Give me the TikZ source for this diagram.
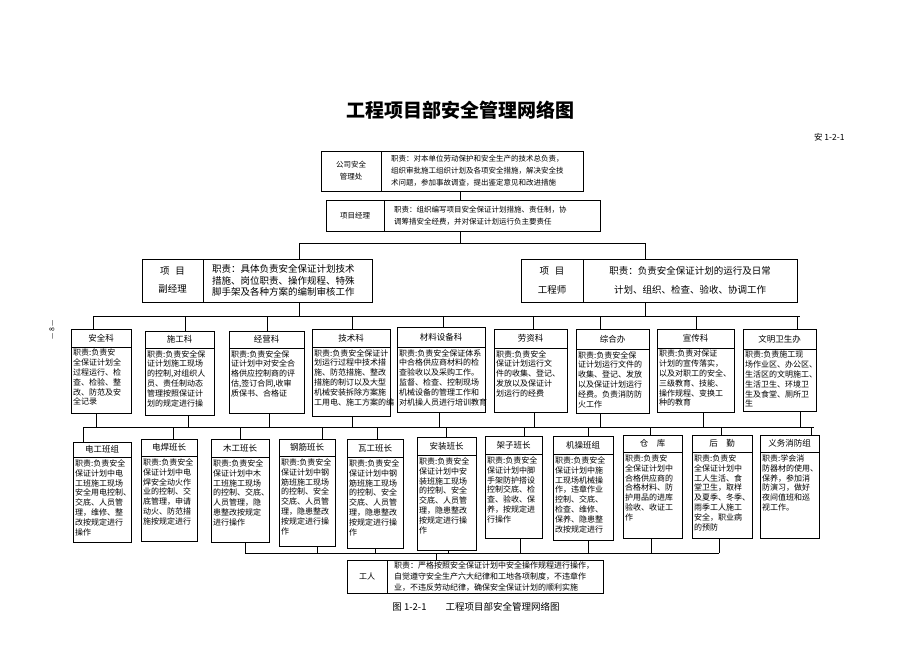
\documentclass[tikz,border=0pt]{standalone}
\usepackage{fontspec}
\setmainfont{Noto Sans CJK SC}
\tikzset{
  box/.style={draw, line width=1.2pt, inner sep=0pt, anchor=north west},
  link/.style={line width=0.7pt},
  head/.style={font=\fontsize{8.5}{10}\selectfont},
  body/.style={anchor=north west, align=left, inner sep=0pt, font=\fontsize{8}{9.8}\selectfont},
  lab/.style={align=center, inner sep=0pt},
}
\begin{document}
\begin{tikzpicture}[x=1pt,y=-1pt]
  \useasboundingbox (0,0) rectangle (920,651);
  % title
  \node[font=\fontsize{19}{19}\selectfont\bfseries] (title) at (460,110) {工程项目部安全管理网络图};
  \node[anchor=east, font=\fontsize{8.5}{9}\selectfont] (tabno) at (848,137) {安 1-2-1};
  \node[rotate=90, font=\fontsize{7}{7}\selectfont] (page) at (52,330) {— 8 —};

  % upper levels
  \node[box, minimum width=262pt, minimum height=40pt] (gs) at (321,151) {};
  \draw[link] ([xshift=60pt]gs.north west) -- ([xshift=60pt]gs.south west);
  \node[lab, font=\fontsize{7.5}{12}\selectfont] at (351,171) {公司安全\\管理处};
  \node[lab, anchor=west, align=left, font=\fontsize{7.5}{12}\selectfont] at (391,171)
    {职责：对本单位劳动保护和安全生产的技术总负责，\\组织审批施工组织计划及各项安全措施，解决安全技\\术问题，参加事故调查，提出鉴定意见和改进措施};

  \node[box, minimum width=274pt, minimum height=31pt] (xmjl) at (326,200) {};
  \draw[link] ([xshift=58pt]xmjl.north west) -- ([xshift=58pt]xmjl.south west);
  \node[lab, font=\fontsize{7.5}{12}\selectfont] at (355,215.5) {项目经理};
  \node[lab, anchor=west, align=left, font=\fontsize{7.5}{12}\selectfont] at (394,215.5)
    {职责：组织编写项目安全保证计划措施、责任制，协\\调筹措安全经费，并对保证计划运行负主要责任};

  \node[box, minimum width=230pt, minimum height=43pt] (fjl) at (142,259) {};
  \draw[link] ([xshift=61pt]fjl.north west) -- ([xshift=61pt]fjl.south west);
  \node[lab, font=\fontsize{9.5}{18}\selectfont] at (172.5,280.5) {项\hspace{0.6em}目\\副经理};
  \node[lab, anchor=west, align=left, font=\fontsize{9.5}{11.5}\selectfont] at (212,280.5)
    {职责：具体负责安全保证计划技术\\措施、岗位职责、操作规程、特殊\\脚手架及各种方案的编制审核工作};

  \node[box, minimum width=276pt, minimum height=43pt] (gcs) at (521,259) {};
  \draw[link] ([xshift=62pt]gcs.north west) -- ([xshift=62pt]gcs.south west);
  \node[lab, font=\fontsize{9.5}{19}\selectfont] at (552,280.5) {项\hspace{0.6em}目\\工程师};
  \node[lab, font=\fontsize{9.5}{19}\selectfont] at (690,280.5)
    {职责：负责安全保证计划的运行及日常\\计划、组织、检查、验收、协调工作};

  % departments
  \foreach \nm/\x/\y/\w/\h/\hh/\ttl/\txt in {
    aqk/71/329/60/84/18/安全科/{职责:负责安\\全保证计划全\\过程运行、检\\查、检验、整\\改、防范及安\\全记录},
    sgk/145/331/69/84/17/施工科/{职责:负责安全保\\证计划施工现场\\的控制,对组织人\\员、责任制动态\\管理按照保证计\\划的规定进行操},
    jyk/229/331/75/82/17/经营科/{职责:负责安全保\\证计划中对安全合\\格供应控制商的评\\估,签订合同,收审\\质保书、合格证},
    jsk/312/329/78/87/18/技术科/{职责:负责安全保证计\\划运行过程中技术措\\施、防范措施、整改\\措施的制订以及大型\\机械安装拆除方案施\\工用电、施工方案的编},
    clk/397/327/88/85/20/材料设备科/{职责:负责安全保证体系\\中合格供应商材料的检\\查验收以及采购工作。\\监督、检查、控制现场\\机械设备的管理工作和\\对机操人员进行培训教育},
    lzk/494/329/73/83/19/劳资科/{职责:负责安全\\保证计划运行文\\件的收集、登记、\\发放以及保证计\\划运行的经费},
    zhb/576/329/73/84/20/综合办/{职责:负责安全保\\证计划运行文件的\\收集、登记、发放\\以及保证计划运行\\经费。负责消防防\\火工作},
    xck/657/329/77/83/19/宣传科/{职责:负责对保证\\计划的宣传落实，\\以及对职工的安全、\\三级教育、技能、\\操作规程、变换工\\种的教育},
    wmb/743/329/73/82/20/文明卫生办/{职责:负责施工现\\场作业区、办公区、\\生活区的文明施工、\\生活卫生、环境卫\\生及食堂、厕所卫\\生}}
  {
    \node[box, minimum width=\w pt, minimum height=\h pt] (\nm) at (\x,\y) {};
    \draw[line width=1pt] (\x,{\y+\hh}) -- ({\x+\w},{\y+\hh});
    \node[head] at ({\x+\w/2},{\y+\hh/2}) {\ttl};
    \node[body] at ({\x+2},{\y+\hh+2}) {\txt};
  }

  % teams
  \foreach \nm/\x/\y/\w/\h/\hh/\ttl/\txt in {
    dgbz/73/442/58/100/15/电工班组/{职责:负责安全\\保证计划中电\\工班施工现场\\安全用电控制、\\交底、人员管\\理，维修、整\\改按规定进行\\操作},
    dhbz/141/439/56/102/17/电焊班长/{职责:负责安全\\保证计划中电\\焊安全动火作\\业的控制、交\\底管理，申请\\动火、防范措\\施按规定进行},
    mgbz/211/439/58/103/18/木工班长/{职责:负责安全\\保证计划中木\\工班施工现场\\的控制、交底、\\人员管理，隐\\患整改按规定\\进行操作},
    gjbz/279/439/56/107/17/钢筋班长/{职责:负责安全\\保证计划中钢\\筋班施工现场\\的控制、安全\\交底、人员管\\理，隐患整改\\按规定进行操\\作},
    wgbz/347/439/56/109/18/瓦工班长/{职责:负责安全\\保证计划中钢\\筋班施工现场\\的控制、安全\\交底、人员管\\理，隐患整改\\按规定进行操\\作},
    azbz/417/437/59/113/18/安装班长/{职责:负责安全\\保证计划中安\\装班施工现场\\的控制、安全\\交底、人员管\\理，隐患整改\\按规定进行操\\作},
    jzbz/485/436/57/102/18/架子班长/{职责:负责安全\\保证计划中脚\\手架防护搭设\\控制交底、检\\查、验收、保\\养，按规定进\\行操作},
    jcbz/553/436/60/104/18/机操班组/{职责:负责安全\\保证计划中施\\工现场机械操\\作，违章作业\\控制、交底、\\检查、维修、\\保养、隐患整\\改按规定进行},
    ck/623/435/59/103/17/仓\quad 库/{职责:负责安\\全保证计划中\\合格供应商的\\合格材料、防\\护用品的进库\\验收、收证工\\作},
    hq/692/435/60/103/17/后\quad 勤/{职责:负责安\\全保证计划中\\工人生活、食\\堂卫生，取样\\及夏季、冬季、\\雨季工人施工\\安全，职业病\\的预防},
    xfz/760/435/59/103/17/义务消防组/{职责:学会消\\防器材的使用、\\保养，参加消\\防演习，做好\\夜间值班和巡\\视工作。}}
  {
    \node[box, minimum width=\w pt, minimum height=\h pt] (\nm) at (\x,\y) {};
    \draw[line width=1pt] (\x,{\y+\hh}) -- ({\x+\w},{\y+\hh});
    \node[head] at ({\x+\w/2},{\y+\hh/2}) {\ttl};
    \node[body] at ({\x+2},{\y+\hh+2.5}) {\txt};
  }

  % workers
  \node[box, minimum width=256pt, minimum height=33pt] (gr) at (347,560) {};
  \draw[link] ([xshift=40pt]gr.north west) -- ([xshift=40pt]gr.south west);
  \node[lab, font=\fontsize{8}{11}\selectfont] at (367,576.5) {工人};
  \node[lab, anchor=west, align=left, font=\fontsize{8}{11}\selectfont] at (394,576.5)
    {职责：严格按照安全保证计划中安全操作规程进行操作，\\自觉遵守安全生产六大纪律和工地各项制度，不违章作\\业，不违反劳动纪律，确保安全保证计划的顺利实施};
  \node[font=\fontsize{9.5}{10}\selectfont] (cap) at (476,607) {图 1-2-1\qquad 工程项目部安全管理网络图};

  % connectors
  \coordinate (b0l) at (299,243);
  \coordinate (b0r) at (645,243);
  \coordinate (b1l) at (93,316);
  \coordinate (b1r) at (800,316);
  \coordinate (b2l) at (83,427);
  \coordinate (b2r) at (814,427);
  \coordinate (b3l) at (245,553);
  \coordinate (b3r) at (719,553);
  \draw[link] (460,0 |- gs.south) -- (460,0 |- xmjl.north);
  \draw[link] (460,0 |- xmjl.south) -- (460,243);
  \draw[link] (b0l) -- (b0r);
  \draw[link] (b0l) -- (b0l |- fjl.north);
  \draw[link] (b0r) -- (b0r |- gcs.north);
  \draw[link] (b0l |- fjl.south) -- (b0l |- b1l);
  \draw[link] (b0r |- gcs.south) -- (b0r |- b1l);
  \draw[link] (b1l) -- (b1r);
  \draw[link] (b2l) -- (b2r);
  \draw[link] (b3l) -- (b3r);
  \foreach \nm/\cx in {aqk/93,sgk/185,jyk/267,jsk/352,clk/443,lzk/533,zhb/600,xck/696,wmb/797}
    \draw[link] (\cx,316) -- (\cx,316 |- \nm.north);
  \foreach \nm/\dx in {aqk/96,sgk/188,jyk/269,jsk/352,clk/439,lzk/534,zhb/600,xck/703,wmb/800}
    \draw[link] (\dx,427 |- \nm.south) -- (\dx,427);
  \foreach \nm/\cx in {dgbz/83,dhbz/173,mgbz/240,gjbz/322,wgbz/377,azbz/446,jzbz/524,jcbz/588,ck/650,hq/721,xfz/811}
    \draw[link] (\cx,427) -- (\cx,427 |- \nm.north);
  \foreach \nm/\dx in {mgbz/245,gjbz/317,wgbz/375,azbz/448,jzbz/520,jcbz/588,ck/651,hq/719}
    \draw[link] (\dx,553 |- \nm.south) -- (\dx,553);
  \draw[link] (436,553) -- (436,553 |- gr.north);
\end{tikzpicture}
\end{document}
